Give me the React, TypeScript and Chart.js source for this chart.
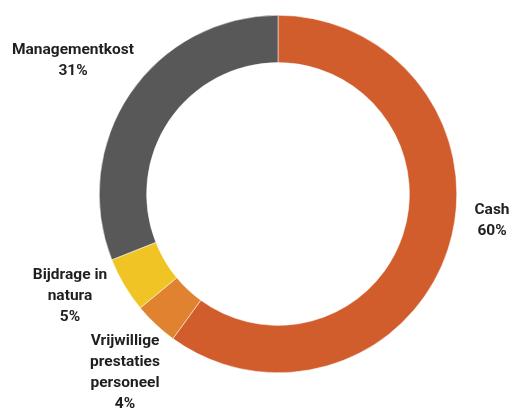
import React, { useEffect, useRef } from "react";
import { Chart, registerables } from "chart.js";

Chart.register(...registerables);

const categories = ["Cash", "Vrijwillige prestaties personeel", "Bijdrage in natura", "Managementkost"];
const labelLines = [["Cash", "60%"], ["Vrijwillige", "prestaties", "personeel", "4%"], ["Bijdrage in", "natura", "5%"], ["Managementkost", "31%"]];
const values = [60, 4, 5, 31];
const colors = ["#D15C2C", "#E0822F", "#F0C424", "#585858"];
// label centre offsets relative to the chart centre (text placement only)
const labelOffsets = [
  [214, 27],
  [-153, 179],
  [-208, 102],
  [-205, -133],
];

const labelPlugin = {
  id: "outsideLabels",
  afterDraw(chart: any) {
    const ctx = chart.ctx;
    const meta = chart.getDatasetMeta(0);
    const arc0 = meta.data[0];
    if (!arc0) return;
    const cx = arc0.x;
    const cy = arc0.y;
    ctx.save();
    ctx.font = "bold 15.5px Roboto";
    ctx.fillStyle = "#1f1f1f";
    ctx.textAlign = "center";
    ctx.textBaseline = "middle";
    const lh = 21;
    labelLines.forEach((lines, i) => {
      const [dx, dy] = labelOffsets[i];
      const x = cx + dx;
      const y0 = cy + dy - ((lines.length - 1) * lh) / 2;
      lines.forEach((t, j) => ctx.fillText(t, x, y0 + j * lh));
    });
    ctx.restore();
  },
};

export default function App() {
  const ref = useRef<HTMLCanvasElement>(null);
  useEffect(() => {
    if (!ref.current) return;
    const chart = new Chart(ref.current, {
      type: "doughnut",
      data: {
        labels: categories,
        datasets: [
          {
            data: values,
            backgroundColor: colors,
            borderColor: "#ffffff",
            borderWidth: 0.5,
          },
        ],
      },
      options: {
        responsive: false,
        animation: false,
        cutout: "73.5%",
        layout: { padding: { left: 99, right: 55, top: 15, bottom: 37 } },
        plugins: { legend: { display: false }, tooltip: { enabled: false } },
      },
      plugins: [labelPlugin],
    });
    return () => chart.destroy();
  }, []);
  return (
    <div style={{ position: "absolute", left: 0, top: 0, width: 512, height: 410, background: "#fff" }}>
      <canvas ref={ref} width={512} height={410} />
    </div>
  );
}
